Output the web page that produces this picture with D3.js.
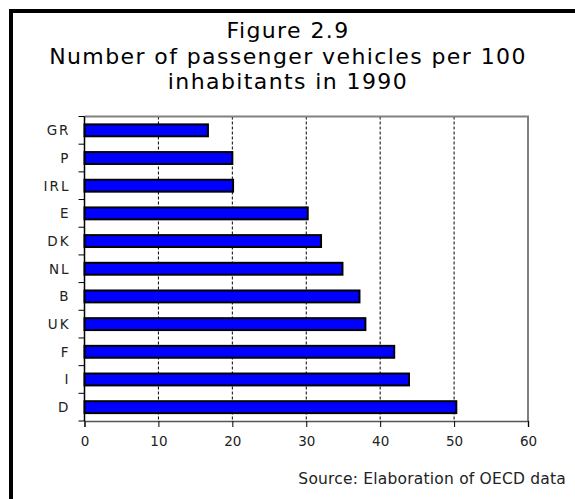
<!DOCTYPE html>
<html>
<head>
<meta charset="utf-8">
<script src="https://cdn.jsdelivr.net/npm/d3@7"></script>
<style>
  body { margin: 0; background: #fff; }
  svg { display: block; font-family: "DejaVu Sans", "Open Sans", sans-serif; }
</style>
</head>
<body>
<div id="chart"></div>
<script>
var countries = ["GR", "P", "IRL", "E", "DK", "NL", "B", "UK", "F", "I", "D"];
var vehicles = [16.7, 20.0, 20.1, 30.2, 32.0, 34.9, 37.2, 38.0, 41.9, 43.9, 50.3];
var xTicks = [0, 10, 20, 30, 40, 50, 60];
var titleLines = ["Figure 2.9", "Number of passenger vehicles per 100", "inhabitants in 1990"];
var sourceNote = "Source: Elaboration of OECD data";

var W = 575, H = 499,
    margin = {top: 116.5, left: 84.5},
    width = 528 - 84.5,
    height = 421 - 116.5;

var data = countries.map(function(c, i) { return {name: c, value: vehicles[i]}; });

var svg = d3.select("#chart").append("svg")
    .attr("width", W)
    .attr("height", H);

// outer frame (right and bottom run off the page)
svg.append("rect")
    .attr("x", 11).attr("y", 11)
    .attr("width", W + 20).attr("height", H + 20)
    .attr("fill", "none")
    .attr("stroke", "#000")
    .attr("stroke-width", 4);

titleLines.forEach(function(t, i) {
  svg.append("text")
      .attr("x", 288)
      .attr("y", 38 + i * 25.5)
      .attr("text-anchor", "middle")
      .attr("font-size", 22)
      .attr("letter-spacing", 1.4)
      .attr("fill", "#000")
      .text(t);
});

var g = svg.append("g")
    .attr("transform", "translate(" + margin.left + "," + margin.top + ")");

var xScale = d3.scaleLinear().domain([0, 60]).range([0, width]);
var yScale = d3.scaleBand().domain(countries).range([0, height]).paddingInner(0.57).paddingOuter(0.285);
var yStep = yScale.step();

// dashed gridlines
g.selectAll(".grid")
    .data(xTicks.slice(1, -1))
  .enter().append("line")
    .attr("class", "grid")
    .attr("x1", function(d) { return xScale(d); })
    .attr("x2", function(d) { return xScale(d); })
    .attr("y1", 0).attr("y2", height)
    .attr("stroke", "#000")
    .attr("stroke-width", 1)
    .attr("stroke-dasharray", "3,2");

// plot frame top + right
g.append("path")
    .attr("d", "M0,0H" + width + "V" + height)
    .attr("fill", "none")
    .attr("stroke", "#808080")
    .attr("stroke-width", 2);

// bars
g.selectAll(".bar")
    .data(data)
  .enter().append("rect")
    .attr("class", "bar")
    .attr("x", xScale(0))
    .attr("y", function(d) { return yScale(d.name); })
    .attr("width", function(d) { return xScale(d.value); })
    .attr("height", yScale.bandwidth())
    .attr("fill", "#0000ff")
    .attr("stroke", "#000")
    .attr("stroke-width", 2);

// x axis
var xAxis = g.append("g")
    .attr("transform", "translate(0," + height + ")")
    .call(d3.axisBottom(xScale).tickValues(xTicks).tickSize(6).tickPadding(9));
xAxis.select(".domain").attr("stroke", "#555").attr("stroke-width", 1.5);
xAxis.selectAll(".tick line").attr("stroke", "#000");
xAxis.selectAll("text").attr("font-size", 13.5).attr("fill", "#222")
    .attr("font-family", "\"DejaVu Sans\", sans-serif");

// y axis: ticks at band boundaries, labels centred in bands
var yAxis = g.append("g");
yAxis.append("line")
    .attr("x1", 0).attr("x2", 0)
    .attr("y1", 0).attr("y2", height)
    .attr("stroke", "#000").attr("stroke-width", 1.5);
yAxis.selectAll(".ytick")
    .data(d3.range(countries.length + 1))
  .enter().append("line")
    .attr("class", "ytick")
    .attr("x1", -6).attr("x2", 0)
    .attr("y1", function(i) { return i * yStep; })
    .attr("y2", function(i) { return i * yStep; })
    .attr("stroke", "#000");
yAxis.selectAll(".ylabel")
    .data(countries)
  .enter().append("text")
    .attr("class", "ylabel")
    .attr("x", -14)
    .attr("y", function(d) { return yScale(d) + yScale.bandwidth() / 2; })
    .attr("dy", "0.36em")
    .attr("text-anchor", "end")
    .attr("font-size", 13.5)
    .attr("letter-spacing", 2)
    .attr("fill", "#222")
    .text(function(d) { return d; });

svg.append("text")
    .attr("x", 566)
    .attr("y", 484)
    .attr("text-anchor", "end")
    .attr("font-size", 15.5)
    .attr("letter-spacing", 0.2)
    .attr("fill", "#222")
    .text(sourceNote);
</script>
</body>
</html>
